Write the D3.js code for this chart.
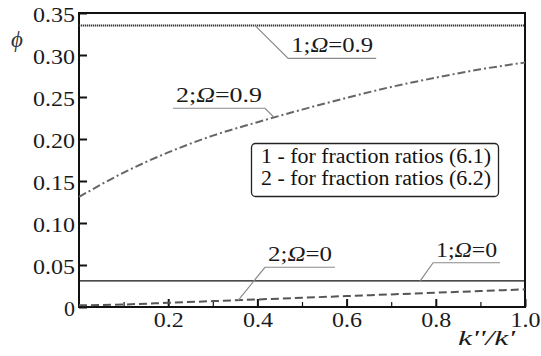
<!DOCTYPE html>
<html>
<head>
<meta charset="utf-8">
<script src="https://cdn.jsdelivr.net/npm/d3@7"></script>
<style>
  body { margin: 0; background: #fff; }
  svg { display: block; font-family: "Liberation Serif", "Times New Roman", serif; }
</style>
</head>
<body>
<svg width="541" height="356"></svg>
<script>
// k''/k' sample points
const kRatio = [0, 0.1, 0.2, 0.3, 0.4, 0.5, 0.6, 0.7, 0.8, 0.9, 1.0];
const kEnds = [0, 1.0];

// 1; Omega = 0.9  (fraction ratios 6.1)
const phi1Omega09 = [0.335, 0.335];
// 2; Omega = 0.9  (fraction ratios 6.2)
const phi2Omega09 = [0.131, 0.160, 0.184, 0.204, 0.220, 0.235, 0.249, 0.262, 0.273, 0.283, 0.291];
// 1; Omega = 0
const phi1Omega0 = [0.031, 0.031];
// 2; Omega = 0
const phi2Omega0 = [0.002, 0.003, 0.005, 0.007, 0.009, 0.011, 0.013, 0.015, 0.017, 0.019, 0.021];

const xTicks = [0.2, 0.4, 0.6, 0.8, 1.0];
const xMinorTicks = [0.1, 0.3, 0.5, 0.7, 0.9];
const yTicks = [0, 0.05, 0.10, 0.15, 0.20, 0.25, 0.30, 0.35];
const legendLines = ["1 - for fraction ratios (6.1)", "2 - for fraction ratios (6.2)"];

const plotLeft = 79, plotRight = 525, plotTop = 13, plotBottom = 307;

const x = d3.scaleLinear().domain([0, 1]).range([plotLeft, plotRight]);
const y = d3.scaleLinear().domain([0, 0.35]).range([plotBottom, plotTop]);

const svg = d3.select('svg');

// y axis, ticks pointing inward
const yAxis = svg.append('g')
  .attr('transform', `translate(${plotLeft},0)`)
  .call(d3.axisLeft(y).tickValues(yTicks).tickSize(-8).tickPadding(4)
    .tickFormat(d => d === 0 ? '0' : d3.format('.2f')(d)))
  .attr('font-family', null).attr('font-size', 22);
yAxis.select('.domain').remove();
yAxis.selectAll('line').attr('stroke', '#111').attr('stroke-width', 2);
yAxis.selectAll('text').attr('fill', '#1a1a1a').attr('dy', '0.4em')
  .attr('textLength', d => d === 0 ? null : 42).attr('lengthAdjust', 'spacingAndGlyphs');

// x axis, major and minor ticks pointing inward
const xAxis = svg.append('g')
  .attr('transform', `translate(0,${plotBottom})`)
  .call(d3.axisBottom(x).tickValues(xTicks).tickSize(-8).tickPadding(4)
    .tickFormat(d3.format('.1f')))
  .attr('font-family', null).attr('font-size', 22);
xAxis.select('.domain').remove();
xAxis.selectAll('line').attr('stroke', '#111').attr('stroke-width', 2);
xAxis.selectAll('text').attr('fill', '#1a1a1a').attr('dy', '0.71em')
  .attr('textLength', 30).attr('lengthAdjust', 'spacingAndGlyphs');

const xMinor = svg.append('g')
  .attr('transform', `translate(0,${plotBottom})`)
  .call(d3.axisBottom(x).tickValues(xMinorTicks).tickSize(-5).tickFormat(''));
xMinor.select('.domain').remove();
xMinor.selectAll('line').attr('stroke', '#111').attr('stroke-width', 1.2);

// frame
svg.append('rect')
  .attr('x', plotLeft).attr('y', plotTop)
  .attr('width', plotRight - plotLeft).attr('height', plotBottom - plotTop)
  .attr('fill', 'none').attr('stroke', '#111').attr('stroke-width', 2);

const line = d3.line().x(d => x(d[0])).y(d => y(d[1])).curve(d3.curveMonotoneX);

function drawSeries(xs, ys, stroke, width, dash) {
  svg.append('path')
    .datum(xs.map((k, i) => [k, ys[i]]))
    .attr('d', line)
    .attr('fill', 'none')
    .attr('stroke', stroke)
    .attr('stroke-width', width)
    .attr('stroke-dasharray', dash);
}

drawSeries(kEnds, phi1Omega09, '#333', 2, '1.3 0.7');
drawSeries(kRatio, phi2Omega09, '#666', 2, '8 3 2 3');
drawSeries(kEnds, phi1Omega0, '#111', 1.2, null);
drawSeries(kRatio, phi2Omega0, '#555', 2, '8 4');

// curve labels with leader lines
// touch: point on curve (data units); elbow: where the underline meets the leader
function curveLabel(num, omega, touch, elbow, dir, len) {
  const ex = x(elbow[0]), ey = y(elbow[1]);
  const x2 = ex + dir * len;
  svg.append('path')
    .attr('d', `M${x(touch[0])},${y(touch[1])}L${ex},${ey}L${x2},${ey}`)
    .attr('fill', 'none').attr('stroke', '#8a8a8a').attr('stroke-width', 1.2);
  const t = svg.append('text')
    .attr('x', Math.min(ex, x2) + 3)
    .attr('y', ey - 6)
    .attr('font-size', 21)
    .attr('fill', '#1a1a1a')
    .attr('textLength', len - 6).attr('lengthAdjust', 'spacingAndGlyphs');
  t.append('tspan').text(num + ';');
  t.append('tspan').attr('font-style', 'italic').text('Ω');
  t.append('tspan').text('=' + omega);
}

curveLabel('1', '0.9', [0.395, 0.335], [0.469, 0.296], 1, 88);
curveLabel('2', '0.9', [0.436, 0.2265], [0.417, 0.2366], -1, 92);
curveLabel('2', '0', [0.357, 0.008], [0.417, 0.0473], 1, 70);
curveLabel('1', '0', [0.765, 0.031], [0.794, 0.0527], 1, 67);

// legend box
const legend = svg.append('g');
legend.append('rect')
  .attr('x', 251.5).attr('y', 143.5)
  .attr('width', 247).attr('height', 53)
  .attr('rx', 4)
  .attr('fill', '#fff').attr('stroke', '#222').attr('stroke-width', 1.3);
legend.selectAll('text')
  .data(legendLines)
  .join('text')
  .attr('x', 261)
  .attr('y', (d, i) => 163 + i * 22)
  .attr('font-size', 20.5)
  .attr('fill', '#111')
  .attr('textLength', 230).attr('lengthAdjust', 'spacingAndGlyphs')
  .text(d => d);

// axis titles
svg.append('text')
  .attr('x', 11).attr('y', 47)
  .attr('font-size', 23).attr('font-style', 'italic').attr('fill', '#333')
  .text('ϕ');
svg.append('text')
  .attr('x', 458).attr('y', 345)
  .attr('font-size', 22).attr('font-style', 'italic').attr('fill', '#1a1a1a')
  .attr('textLength', 57).attr('lengthAdjust', 'spacingAndGlyphs')
  .text("k''/k'");
</script>
</body>
</html>
